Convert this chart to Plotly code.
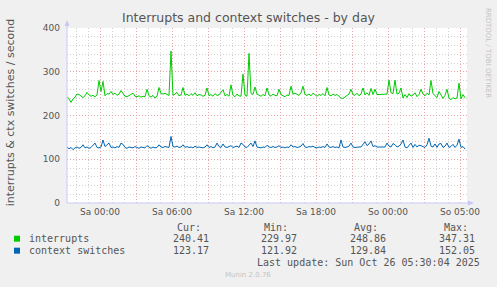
import plotly.graph_objects as go
import pandas as pd

# ---------------- data ----------------
start_time = "2025-10-24 21:15"
step = "10min"

interrupts = [
    243, 238, 229.97, 238, 242, 249, 248, 244, 241, 245,
    253, 247, 244, 246, 243, 247, 280, 255, 278, 245,
    250, 249, 255, 248, 251, 246, 249, 257, 250, 244,
    243, 246, 250, 251, 244, 243, 245, 242, 244, 243,
    260, 245, 242, 246, 240, 244, 264, 250, 249, 251,
    248, 246, 347.31, 246, 249, 253, 245, 247, 264, 246,
    249, 245, 250, 246, 252, 245, 248, 247, 244, 246,
    263, 245, 248, 244, 250, 246, 247, 252, 259, 245,
    248, 244, 270, 246, 243, 249, 245, 244, 295, 246,
    244, 342, 250, 248, 265, 249, 246, 244, 248, 245,
    263, 247, 244, 249, 246, 245, 260, 248, 245, 243,
    247, 246, 267, 249, 251, 248, 246, 252, 267, 248,
    246, 249, 245, 251, 247, 244, 248, 246, 250, 245,
    264, 247, 245, 249, 246, 248, 244, 240, 239, 243,
    246, 249, 260, 248, 246, 251, 245, 249, 263, 247,
    252, 246, 262, 248, 260, 248, 248, 248, 248, 248,
    249, 281, 252, 250, 281, 249, 251, 263, 240, 248,
    241, 250, 244, 247, 252, 243, 248, 260, 249, 245,
    251, 247, 280, 250, 246, 241, 255, 248, 239, 246,
    260, 240, 236, 241, 238, 240, 274, 238, 248, 240.41,
]

context_switches = [
    128, 124, 127, 121.92, 126, 128, 125, 127, 133, 126,
    128, 125, 127, 133, 137, 127, 126, 128, 144, 129,
    133, 137, 127, 128, 126, 129, 127, 137, 134, 127,
    125, 128, 127, 126, 129, 127, 125, 128, 127, 126,
    131, 127, 125, 128, 126, 127, 133, 128, 127, 129,
    128, 127, 152.05, 129, 128, 130, 127, 128, 133, 127,
    129, 127, 128, 126, 130, 127, 128, 127, 126, 128,
    133, 127, 129, 126, 128, 137, 129, 127, 135, 128,
    127, 129, 131, 127, 128, 130, 127, 137, 134, 128,
    127, 133, 137, 129, 142, 128, 127, 126, 128, 127,
    132, 128, 127, 129, 127, 128, 131, 127, 128, 126,
    128, 127, 133, 128, 129, 127, 128, 130, 136, 128,
    127, 129, 128, 130, 127, 126, 128, 127, 129, 127,
    135, 128, 127, 129, 127, 128, 126, 144, 128, 127,
    128, 130, 137, 128, 127, 128, 128, 128, 133, 140,
    131, 135, 142, 129, 131, 128, 128, 128, 128, 128,
    137, 130, 128, 136, 133, 128, 130, 135, 144, 128,
    126, 131, 137, 127, 134, 128, 132, 131, 128, 127,
    133, 148, 130, 128, 135, 127, 135, 136, 127, 130,
    137, 127, 129, 134, 127, 132, 146, 127, 129, 123.17,
]

series_names = ["interrupts", "context switches"]
series_colors = ["#00CC00", "#0066B3"]
stat_headers = ["Cur:", "Min:", "Avg:", "Max:"]
stats_interrupts = ["240.41", "229.97", "248.86", "347.31"]
stats_context = ["123.17", "121.92", "129.84", "152.05"]

x_tick_vals = list(pd.date_range("2025-10-25 00:00", "2025-10-26 06:00", freq="3h"))
x_tick_text = ["Sa 00:00", "", "Sa 06:00", "", "Sa 12:00", "", "Sa 18:00", "",
               "So 00:00", "", "So 05:00"]
x_range = ["2025-10-24 21:15", "2025-10-26 06:35"]
y_tick_vals = [0, 100, 200, 300, 400]

title_text = "Interrupts and context switches - by day"
y_title = "interrupts &amp; ctx switches / second"
last_update = "Last update: Sun Oct 26 05:30:04 2025"
side_text = "RRDTOOL / TOBI OETIKER"
footer = "Munin 2.0.76"

# ---------------- layout helpers ----------------
W, H = 497, 287
L, R, T, B = 67, 467, 28, 203.5
PW, PH = R - L, B - T


def px(x):
    return (x - L) / PW


def py(y):
    return (B - y) / PH


times = pd.date_range(start_time, periods=len(interrupts), freq=step)

fig = go.Figure()
for name, vals, col in zip(series_names, [interrupts, context_switches], series_colors):
    fig.add_trace(go.Scatter(x=times, y=vals, mode="lines", name=name,
                             line=dict(color=col, width=1), showlegend=False,
                             hoverinfo="skip"))

text_col = "#555555"
major_col = "#E9A5A5"
minor_col = "#D2D2D2"
dash = "1px,2px"

fig.update_layout(
    width=W, height=H, autosize=False,
    margin=dict(l=L, r=W - R, t=T, b=H - B, pad=0),
    paper_bgcolor="#F0F0F0", plot_bgcolor="#FFFFFF",
    font=dict(family="DejaVu Sans", color=text_col, size=9),
    title=dict(text=title_text, x=0.5, xref="container", xanchor="center",
               y=1 - 18 / H, yref="container", yanchor="middle",
               font=dict(family="DejaVu Sans", size=12.5, color=text_col)),
    xaxis=dict(range=x_range, tickmode="array", tickvals=x_tick_vals, ticktext=x_tick_text,
               showgrid=True, gridcolor=major_col, griddash=dash, gridwidth=1,
               zeroline=False, showline=False, ticks="", ticklabelstandoff=2,
               tickfont=dict(size=9, color=text_col),
               minor=dict(dtick=3600000, tick0="2025-10-25 00:00", showgrid=True,
                          gridcolor=minor_col, griddash=dash, gridwidth=1, ticks="")),
    yaxis=dict(range=[0, 400], tickmode="array", tickvals=y_tick_vals,
               showgrid=True, gridcolor=major_col, griddash=dash, gridwidth=1,
               zeroline=False, showline=False, ticks="", ticklabelstandoff=6,
               tickfont=dict(size=9, color=text_col),
               minor=dict(dtick=20, showgrid=True, gridcolor=minor_col,
                          griddash=dash, gridwidth=1, ticks="")),
)

axis_col = "#C8C8F8"
shapes = [
    dict(type="line", xref="paper", yref="paper", x0=0, x1=0, y0=0, y1=py(22),
         line=dict(color=axis_col, width=1)),
    dict(type="line", xref="paper", yref="paper", x0=0, x1=px(472), y0=0, y1=0,
         line=dict(color=axis_col, width=1)),
    dict(type="path", xref="paper", yref="paper",
         path=f"M {px(64.5)} {py(26)} L {px(69.5)} {py(26)} L {px(67)} {py(20)} Z",
         fillcolor=axis_col, line=dict(width=0)),
    dict(type="path", xref="paper", yref="paper",
         path=f"M {px(468)} {py(201)} L {px(468)} {py(206)} L {px(474)} {py(203.5)} Z",
         fillcolor=axis_col, line=dict(width=0)),
]
# legend squares
for col, yc in zip(series_colors, [239.3, 251.3]):
    shapes.append(dict(type="rect", xref="paper", yref="paper",
                       x0=px(14), x1=px(20), y0=py(yc - 3), y1=py(yc + 3),
                       fillcolor=col, line=dict(width=0)))
fig.update_layout(shapes=shapes)

mono = dict(family="DejaVu Sans Mono", size=10, color=text_col)
ann = []


def add(text, x, y, xanchor="left", font=mono, angle=0):
    ann.append(dict(text=text, x=px(x), y=py(y), xref="paper", yref="paper",
                    xanchor=xanchor, yanchor="middle", showarrow=False,
                    font=font, textangle=angle))


add(y_title, 10, 113.5, "center", dict(family="DejaVu Sans", size=11, color=text_col), -90)
add(side_text, 488, 53, "center", dict(family="DejaVu Sans", size=7, color="#C4C4C4"), 90)
add(footer, 248, 276, "center", dict(family="DejaVu Sans", size=7, color="#C4C4C4"))

header_right = [203, 290, 380, 470]
value_right = [211, 299, 388, 477]
for h, xr in zip(stat_headers, header_right):
    add(h, xr, 227.7, "right")
for name, stats, yc in zip(series_names, [stats_interrupts, stats_context], [239.3, 251.3]):
    add(name, 26.5, yc, "left")
    for s, xr in zip(stats, value_right):
        add(s, xr, yc, "right")
add(last_update, 482, 263.3, "right")

fig.update_layout(annotations=ann)
fig.write_html("out.html")
